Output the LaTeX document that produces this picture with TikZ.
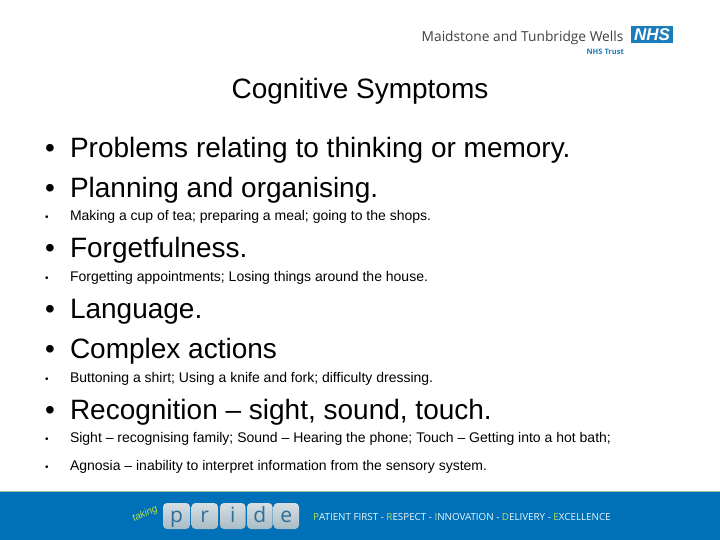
\documentclass[tikz,border=0pt]{standalone}
\usepackage{fontspec}
\setmainfont{Liberation Sans}
\newfontfamily\logofont{Open Sans}
\definecolor{footblue}{HTML}{0070B8}
\definecolor{nhsblue}{HTML}{1B7DBB}
\definecolor{tiletop}{HTML}{D6DEE2}
\definecolor{tilebot}{HTML}{A9BCC6}
\definecolor{tileink}{HTML}{2F6E96}
\definecolor{limeink}{HTML}{B5E04A}
\tikzset{
  x=1pt,y=-1pt,
  base/.style={anchor=base west,inner sep=0pt,outer sep=0pt,text=black},
  bigtext/.style={base,font=\fontsize{28}{28}\selectfont},
  smalltext/.style={base,font=\fontsize{14}{14}\selectfont},
  smallbullet/.style={base,font=\fontsize{10}{10}\selectfont},
  tile/.style={rounded corners=4pt,top color=tiletop,bottom color=tilebot,draw=none},
  tileletter/.style={anchor=base,inner sep=0pt,text=tileink,font=\logofont\fontsize{21}{21}\selectfont},
  motto/.style={anchor=base west,inner sep=0pt,text=white!90!cyan,font=\logofont\fontsize{9.8}{9.8}\selectfont},
}
\newcommand{\lm}[1]{\textcolor{limeink}{#1}}
\begin{document}
\begin{tikzpicture}
\useasboundingbox (0,0) rectangle (720,540);
\fill[white] (0,0) rectangle (720,540);
% logo
\node[anchor=base west,inner sep=0pt,text=black!75,font=\logofont\fontsize{13.75}{13.75}\selectfont] (trustname) at (421.5,41.5) {Maidstone and Tunbridge Wells};
\node[anchor=base east,inner sep=0pt,text=nhsblue,font=\logofont\bfseries\fontsize{7.5}{7.5}\selectfont] (trustsub) at (624,54.5) {NHS Trust};
\fill[nhsblue] (631,26) rectangle (673,43);
\node[anchor=center,inner sep=0pt,text=white,font=\bfseries\itshape\fontsize{17}{17}\selectfont] (nhs) at (652,34.7) {NHS};
% text
\node[base,font=\fontsize{28}{28}\selectfont,anchor=base] (title) at (360,99) {Cognitive Symptoms};
\foreach \nm/\yy/\tx in {a/158/{Problems relating to thinking or memory.},
  b/198/{Planning and organising.},
  d/258/{Forgetfulness.},
  f/318/{Language.},
  g/358/{Complex actions},
  i/419/{Recognition – sight, sound, touch.}}{
  \node[bigtext] (bul\nm) at (45,\yy) {•};
  \node[bigtext] (txt\nm) at (70,\yy) {\tx};
}
\foreach \nm/\yy/\tx in {c/220.5/{Making a cup of tea; preparing a meal; going to the shops.},
  e/281/{Forgetting appointments; Losing things around the house.},
  h/382/{Buttoning a shirt; Using a knife and fork; difficulty dressing.},
  j/442.5/{Sight – recognising family; Sound – Hearing the phone; Touch – Getting into a hot bath;},
  k/470/{Agnosia – inability to interpret information from the sensory system.}}{
  \node[smallbullet] (bul\nm) at (45,\yy) {•};
  \node[smalltext] (txt\nm) at (70,\yy) {\tx};
}
% footer
\fill[footblue] (0,492) rectangle (720,540);
\fill[green!45!black!40] (0,491) rectangle (720,492);
\node[anchor=center,inner sep=0pt,rotate=25,text=limeink,font=\itshape\fontsize{10}{10}\selectfont] (taking) at (145,514) {taking};
\foreach \nm/\xa/\xb/\lt in {p/163/190/p,r/191.5/218/r,i/220/245.5/i,d/247/272.5/d,e/273.5/299/e}{
  \path[tile] (\xa,503) rectangle (\xb,529);
  \node[tileletter] (tile\nm) at ({(\xa+\xb)/2},522) {\lt};
}
\node[motto] (motto) at (313,520) {\lm{P}ATIENT FIRST - \lm{R}ESPECT - \lm{I}NNOVATION - \lm{D}ELIVERY - \lm{E}XCELLENCE};
\end{tikzpicture}
\end{document}
